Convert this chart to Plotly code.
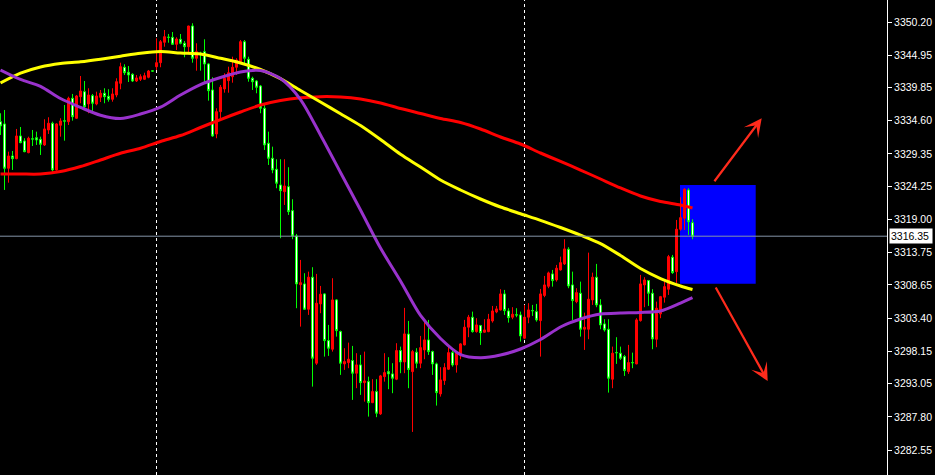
import plotly.graph_objects as go

# ---- candle data (one bar per period) ----
opens = [
    3334.45, 3334.09, 3327.09, 3329.03, 3328.61, 3332.19, 3331.40, 3329.55, 3331.74, 3331.92,
    3331.67, 3330.77, 3333.14, 3334.20, 3326.82, 3333.88, 3334.58, 3334.45, 3338.15, 3334.99,
    3338.40, 3339.19, 3337.25, 3338.56, 3337.25, 3338.31, 3338.94, 3338.46, 3337.99, 3338.67,
    3340.52, 3343.05, 3342.26, 3341.94, 3340.88, 3341.15, 3341.15, 3341.47, 3342.48, 3343.14,
    3343.77, 3347.00, 3347.81, 3347.79, 3346.68, 3347.47, 3346.84, 3346.30, 3349.57, 3344.47,
    3345.28, 3345.51, 3343.57, 3339.46, 3332.51, 3336.03, 3339.62, 3340.93, 3341.56, 3343.05,
    3343.93, 3347.09, 3344.31, 3341.31, 3340.88, 3340.09, 3336.57, 3331.04, 3328.67, 3326.93,
    3324.45, 3323.39, 3324.18, 3320.39, 3316.39, 3308.70, 3308.81, 3304.81, 3309.87, 3296.28,
    3305.65, 3307.23, 3299.85, 3298.49, 3306.28, 3301.27, 3296.17, 3296.37, 3296.69, 3294.70,
    3296.01, 3293.21, 3293.37, 3290.05, 3291.79, 3288.27, 3294.16, 3294.95, 3294.59, 3293.75,
    3298.27, 3296.48, 3300.88, 3294.95, 3298.02, 3296.28, 3298.38, 3299.96, 3298.11, 3296.17,
    3291.43, 3293.53, 3295.33, 3297.95, 3296.01, 3297.75, 3299.17, 3301.97, 3303.55, 3301.27,
    3302.22, 3301.18, 3301.27, 3302.96, 3304.38, 3304.70, 3307.23, 3304.54, 3303.55, 3303.93,
    3303.91, 3300.23, 3303.55, 3304.61, 3304.43, 3303.01, 3306.99, 3308.44, 3310.39, 3309.44,
    3311.02, 3311.97, 3314.29, 3308.65, 3306.01, 3307.34, 3301.65, 3301.65, 3306.28, 3309.87,
    3305.49, 3302.49, 3301.65, 3293.75, 3297.97, 3297.86, 3297.32, 3294.95, 3296.39, 3296.17,
    3303.01, 3308.65, 3309.33, 3307.34, 3300.07, 3304.07, 3306.71, 3307.97, 3313.03, 3310.75,
    3317.45, 3319.19, 3323.66, 3318.49,
]
highs = [
    3335.78, 3336.30, 3329.71, 3329.82, 3333.30, 3333.61, 3331.83, 3332.08, 3333.14, 3332.87,
    3332.08, 3334.83, 3335.15, 3334.45, 3334.20, 3334.99, 3337.09, 3338.40, 3338.83, 3338.67,
    3341.67, 3340.88, 3339.73, 3338.83, 3339.19, 3339.46, 3339.73, 3339.57, 3339.73, 3341.31,
    3343.77, 3343.52, 3343.25, 3342.10, 3341.83, 3341.94, 3342.19, 3342.62, 3342.51, 3347.63,
    3347.36, 3348.94, 3348.31, 3348.62, 3347.79, 3348.31, 3347.20, 3349.62, 3350.00, 3346.84,
    3345.51, 3347.47, 3343.68, 3341.47, 3336.57, 3340.25, 3342.10, 3343.14, 3344.72, 3344.47,
    3347.36, 3347.36, 3344.72, 3341.56, 3341.04, 3340.25, 3337.09, 3332.87, 3330.50, 3328.51,
    3328.51, 3328.51, 3327.25, 3322.19, 3316.71, 3312.60, 3310.50, 3310.75, 3311.45, 3310.39,
    3308.49, 3307.34, 3302.33, 3309.71, 3306.39, 3301.43, 3298.65, 3299.53, 3299.01, 3297.86,
    3297.59, 3298.11, 3294.16, 3293.75, 3293.75, 3294.43, 3297.86, 3297.23, 3296.28, 3299.44,
    3298.90, 3305.02, 3302.96, 3298.38, 3298.65, 3300.59, 3303.23, 3303.12, 3298.27, 3296.37,
    3295.65, 3296.28, 3298.90, 3298.27, 3297.95, 3299.44, 3303.12, 3303.91, 3304.43, 3303.39,
    3302.33, 3303.23, 3304.07, 3305.33, 3305.33, 3307.97, 3307.86, 3304.97, 3305.13, 3304.97,
    3304.43, 3305.49, 3305.76, 3305.49, 3305.65, 3308.02, 3310.07, 3310.75, 3311.02, 3311.81,
    3313.12, 3315.87, 3314.61, 3310.75, 3308.13, 3309.17, 3304.27, 3313.75, 3310.59, 3311.97,
    3306.39, 3303.23, 3303.23, 3298.90, 3300.39, 3298.90, 3297.59, 3299.17, 3297.95, 3303.39,
    3310.23, 3309.87, 3309.44, 3307.97, 3306.01, 3306.91, 3309.17, 3313.39, 3313.39, 3318.92,
    3322.51, 3323.93, 3323.93, 3319.03,
]
lows = [
    3332.35, 3323.66, 3324.81, 3326.82, 3328.50, 3331.04, 3329.62, 3329.46, 3330.61, 3330.77,
    3329.19, 3330.61, 3332.51, 3326.55, 3326.71, 3332.08, 3331.45, 3333.93, 3334.61, 3334.88,
    3337.36, 3336.57, 3335.78, 3335.67, 3337.04, 3337.56, 3337.36, 3337.61, 3337.61, 3338.31,
    3339.57, 3341.83, 3340.72, 3340.72, 3340.72, 3340.88, 3341.04, 3341.31, 3342.35, 3342.62,
    3343.05, 3346.30, 3346.93, 3346.57, 3345.78, 3346.68, 3344.63, 3345.15, 3343.77, 3342.51,
    3342.51, 3340.77, 3337.77, 3332.05, 3331.83, 3334.99, 3339.03, 3339.03, 3340.61, 3341.83,
    3343.68, 3343.68, 3340.77, 3339.46, 3338.94, 3335.78, 3329.98, 3327.61, 3326.30, 3323.93,
    3316.03, 3321.29, 3319.71, 3315.87, 3304.97, 3302.06, 3304.70, 3303.91, 3292.58, 3296.01,
    3304.18, 3297.32, 3297.43, 3298.11, 3300.48, 3294.43, 3295.22, 3295.49, 3290.48, 3292.33,
    3291.27, 3290.21, 3287.84, 3289.96, 3287.75, 3288.11, 3293.37, 3292.17, 3291.54, 3293.60,
    3294.70, 3294.70, 3292.33, 3285.42, 3295.49, 3295.49, 3296.91, 3297.59, 3294.43, 3289.58,
    3291.00, 3292.85, 3295.20, 3295.74, 3294.79, 3296.91, 3299.10, 3300.39, 3301.11, 3301.11,
    3299.17, 3301.11, 3301.18, 3302.69, 3304.18, 3304.60, 3303.91, 3302.69, 3303.23, 3303.55,
    3299.69, 3300.07, 3302.60, 3303.75, 3302.85, 3297.32, 3306.71, 3308.13, 3308.38, 3309.17,
    3310.91, 3311.81, 3308.13, 3303.12, 3305.76, 3300.48, 3298.38, 3300.07, 3305.49, 3305.13,
    3301.65, 3301.27, 3291.63, 3292.33, 3296.17, 3296.80, 3294.27, 3294.59, 3295.49, 3296.10,
    3302.85, 3305.13, 3305.33, 3298.49, 3298.81, 3303.39, 3305.85, 3307.07, 3310.39, 3308.92,
    3317.23, 3317.34, 3316.55, 3315.87,
]
closes = [
    3333.77, 3327.09, 3329.03, 3328.61, 3332.19, 3331.13, 3329.71, 3331.83, 3331.70, 3331.56,
    3330.88, 3333.30, 3334.20, 3326.82, 3334.09, 3334.56, 3334.54, 3338.15, 3335.24, 3338.51,
    3339.30, 3336.82, 3338.67, 3337.36, 3338.51, 3338.94, 3338.40, 3337.99, 3338.83, 3340.77,
    3343.14, 3342.19, 3341.83, 3340.88, 3341.36, 3341.56, 3341.72, 3342.46, 3342.44, 3343.77,
    3347.09, 3347.88, 3347.77, 3346.68, 3347.52, 3346.84, 3346.30, 3349.57, 3344.47, 3345.51,
    3345.24, 3343.57, 3339.35, 3332.19, 3336.03, 3339.89, 3341.31, 3342.19, 3343.05, 3344.20,
    3347.09, 3344.47, 3341.31, 3340.77, 3339.89, 3336.57, 3330.77, 3328.67, 3326.82, 3324.72,
    3323.55, 3324.29, 3320.23, 3316.39, 3308.81, 3309.01, 3304.81, 3309.87, 3297.07, 3305.76,
    3307.18, 3299.85, 3298.65, 3306.28, 3301.43, 3296.28, 3296.53, 3296.91, 3294.70, 3296.01,
    3293.21, 3293.48, 3290.05, 3291.79, 3288.38, 3294.27, 3294.79, 3294.59, 3293.91, 3298.27,
    3296.48, 3300.91, 3295.30, 3298.11, 3296.28, 3298.74, 3299.96, 3298.11, 3296.17, 3291.63,
    3293.64, 3295.58, 3297.95, 3296.01, 3297.86, 3299.33, 3301.97, 3303.55, 3301.27, 3302.33,
    3301.11, 3301.54, 3303.23, 3304.54, 3304.86, 3307.23, 3304.59, 3303.48, 3304.02, 3303.89,
    3300.59, 3303.55, 3304.70, 3304.57, 3303.12, 3307.23, 3308.65, 3310.55, 3309.33, 3311.29,
    3312.17, 3314.34, 3308.49, 3306.17, 3307.43, 3301.65, 3301.97, 3306.39, 3309.87, 3305.49,
    3302.33, 3301.54, 3293.91, 3297.86, 3297.93, 3297.07, 3295.11, 3296.37, 3296.35, 3303.12,
    3308.81, 3309.44, 3307.34, 3300.12, 3304.97, 3306.80, 3308.38, 3313.12, 3310.59, 3317.45,
    3319.28, 3323.77, 3318.65, 3316.35,
]
bar_index = list(range(len(closes)))

# ---- moving averages, sampled along the bars ----
ma_index = [0, 5, 10, 15, 20, 25, 30, 35, 40, 45, 50, 55, 60, 65, 70, 75, 80, 85,
            90, 95, 100, 105, 110, 115, 120, 125, 130, 135, 140, 145, 150, 155, 160,
            165, 170, 173]
ma_yellow = [3340.56, 3342.11, 3343.09, 3343.64, 3343.91, 3344.32, 3344.80, 3345.27,
             3345.54, 3345.30, 3345.15, 3344.47, 3343.73, 3342.70, 3341.25, 3339.38,
             3337.56, 3335.71, 3333.84, 3331.63, 3329.29, 3327.29, 3325.23, 3323.65,
             3322.23, 3320.96, 3319.90, 3318.86, 3317.72, 3316.51, 3315.19, 3313.30,
             3311.24, 3309.66, 3308.48, 3307.93]
ma_purple = [3342.62, 3341.13, 3340.04, 3338.11, 3336.71, 3335.47, 3334.95, 3335.66,
             3336.74, 3338.67, 3340.32, 3341.43, 3342.30, 3342.54, 3341.27, 3337.95,
             3332.34, 3326.42, 3320.49, 3314.48, 3309.27, 3303.82, 3300.18, 3297.65,
             3297.15, 3297.57, 3298.52, 3300.02, 3302.00, 3303.26, 3304.05, 3304.21,
             3304.29, 3304.53, 3305.79, 3306.66]
ma_red = [3326.18, 3326.18, 3326.18, 3326.57, 3327.36, 3328.39, 3329.45, 3330.24,
          3331.32, 3332.26, 3333.53, 3334.79, 3335.98, 3337.08, 3337.80, 3338.22,
          3338.40, 3338.35, 3338.03, 3337.40, 3336.53, 3335.74, 3334.95, 3334.32,
          3333.29, 3332.03, 3330.92, 3329.50, 3328.16, 3326.81, 3325.39, 3323.97,
          3322.70, 3321.83, 3321.28, 3320.81]

# ---- price scale labels ----
price_ticks = [3350.20, 3344.95, 3339.85, 3334.60, 3329.35, 3324.25, 3319.00,
               3313.75, 3308.65, 3303.40, 3298.15, 3293.05, 3287.80, 3282.55]
price_range = [3278.61, 3353.68]

# ---- chart objects ----
session_breaks = [39, 131]
zone_start, zone_end = 169.875, 188.8
zone_low, zone_high = 3308.84, 3324.44
arrow_up = dict(tail=(178.2, 3324.80), tip=(190.3, 3334.98))
arrow_down = dict(tail=(178.6, 3308.48), tip=(191.8, 3293.46))
last_price = closes[-1]

fig = go.Figure()

fig.add_trace(go.Candlestick(
    x=bar_index, open=opens, high=highs, low=lows, close=closes,
    increasing=dict(line=dict(color="#ff0000", width=1), fillcolor="#ff0000"),
    decreasing=dict(line=dict(color="#00ff00", width=1), fillcolor="#ffffff"),
    whiskerwidth=0, showlegend=False, hoverinfo="skip",
))

for values, color in ((ma_red, "#ff0000"), (ma_yellow, "#ffff00"), (ma_purple, "#9932cc")):
    fig.add_trace(go.Scatter(
        x=ma_index, y=values, mode="lines",
        line=dict(color=color, width=3, shape="spline", smoothing=0.8),
        showlegend=False, hoverinfo="skip",
    ))

for b in session_breaks:
    fig.add_shape(type="line", xref="x", yref="paper", x0=b, x1=b, y0=0, y1=1,
                  line=dict(color="#ffffff", width=1, dash="3px,3px"), layer="below")

fig.add_shape(type="rect", xref="x", yref="y", x0=zone_start, x1=zone_end,
              y0=zone_low, y1=zone_high, fillcolor="#0000ff", line=dict(width=0),
              layer="below")

fig.add_shape(type="line", xref="paper", yref="y", x0=0, x1=1,
              y0=last_price, y1=last_price, line=dict(color="#8494a8", width=1))

for arr in (arrow_up, arrow_down):
    fig.add_annotation(
        x=arr["tip"][0], y=arr["tip"][1], ax=arr["tail"][0], ay=arr["tail"][1],
        xref="x", yref="y", axref="x", ayref="y", text="", showarrow=True,
        arrowhead=3, arrowsize=1.35, arrowwidth=2.2, arrowcolor="#ff2b1c",
    )

fig.add_annotation(
    xref="paper", yref="y", x=1, y=last_price, xanchor="left", yanchor="middle",
    xshift=2, text=f"{last_price:.2f}", showarrow=False, bgcolor="#ffffff",
    font=dict(family="Liberation Sans", size=10.5, color="#000000"),
    width=40, borderpad=1, align="left",
)

fig.update_layout(
    width=935, height=475,
    margin=dict(l=0, r=48, t=0, b=0),
    paper_bgcolor="#000000", plot_bgcolor="#000000",
    showlegend=False, boxgap=0.5, boxgroupgap=0,
    xaxis=dict(range=[-0.125, 221.625], visible=False, showgrid=False,
               zeroline=False, rangeslider=dict(visible=False), fixedrange=True),
    yaxis=dict(range=price_range, side="right", showgrid=False, zeroline=False,
               showline=True, linecolor="#ffffff", linewidth=1,
               ticks="outside", ticklen=4, tickwidth=1, tickcolor="#ffffff",
               tickvals=price_ticks, ticktext=[f"{v:.2f}" for v in price_ticks],
               tickfont=dict(family="Liberation Sans", size=10.5, color="#ffffff"),
               fixedrange=True),
)

fig.write_html("out.html")
